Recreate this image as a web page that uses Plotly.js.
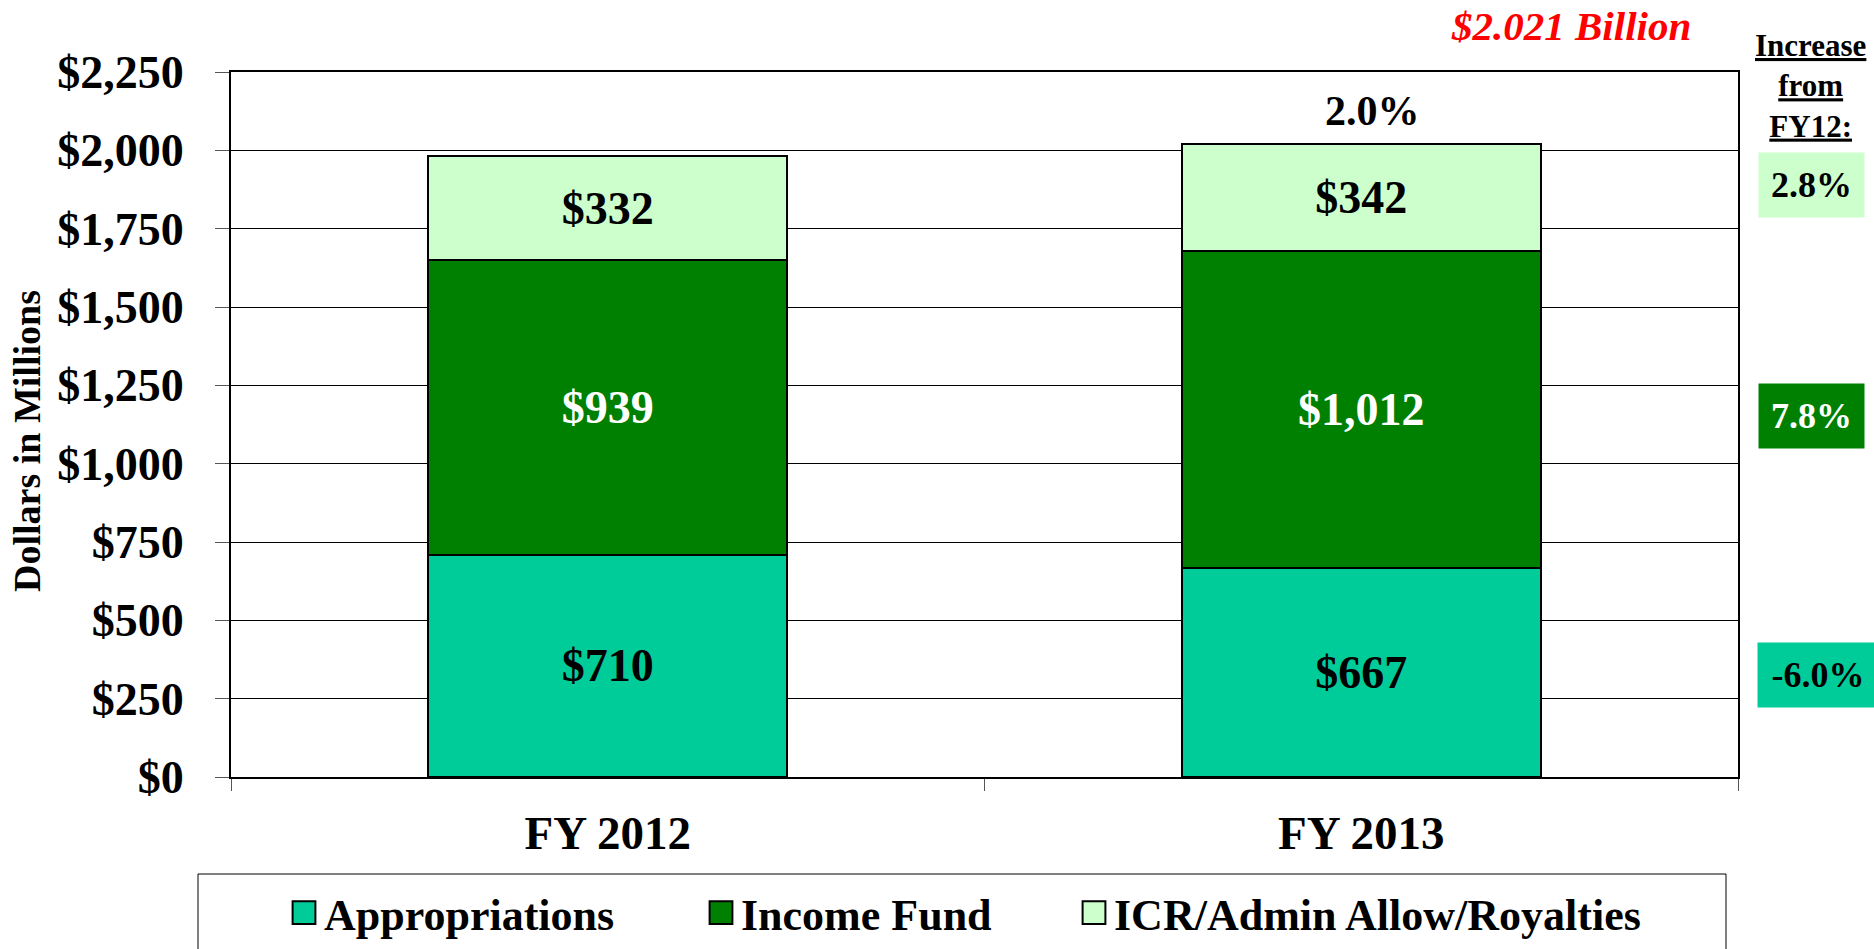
<!DOCTYPE html>
<html><head><meta charset="utf-8">
<script src="https://cdn.plot.ly/plotly-3.0.1.min.js"></script>
<style>html,body{margin:0;padding:0;background:#fff;}#chart{width:1874px;height:949px;}</style>
</head><body><div id="chart"></div>
<script>
const categories = ['FY 2012', 'FY 2013'];
const appropriations = [710, 667];
const incomeFund = [939, 1012];
const icrAdminRoyalties = [332, 342];
const seriesNames = ['Appropriations', 'Income Fund', 'ICR/Admin Allow/Royalties'];
const seriesColors = ['#00CC99', '#008000', '#CCFFCC'];
const seriesTextColors = ['#000000', '#FFFFFF', '#000000'];
const totalLabel = '$2.021 Billion';
const totalChangeLabel = '2.0%';
const changeHeader = ['Increase', 'from', 'FY12:'];
const changeLabels = ['-6.0%', '7.8%', '2.8%'];
const yAxisTitle = 'Dollars in Millions';

const F = 'Liberation Serif, Times New Roman, serif';
const seriesValues = [appropriations, incomeFund, icrAdminRoyalties];
const legendIds = ['legend', 'legend2', 'legend3'];
const legendLeftPx = [284, 701, 1074];

const traces = seriesValues.map((vals, i) => ({
  type: 'bar', name: seriesNames[i], x: categories, y: vals, legend: legendIds[i],
  marker: {color: seriesColors[i], line: {color: '#000', width: 2}},
  texttemplate: '$%{y:,}', textposition: 'inside', insidetextanchor: 'middle', textangle: 0,
  constraintext: 'none',
  textfont: {family: F, size: 46, color: seriesTextColors[i], weight: 700},
  hoverinfo: 'skip'
}));

const fy13Total = appropriations[1] + incomeFund[1] + icrAdminRoyalties[1];

function px2x(p) { return (p - 231) / 1507; }
function px2y(p) { return (777 - p) / 705; }

const annotations = [
  {xref: 'paper', yref: 'paper', x: px2x(27), y: px2y(441), text: '<b>' + yAxisTitle + '</b>', textangle: -90,
   showarrow: false, xanchor: 'center', yanchor: 'middle', font: {family: F, size: 38, color: '#000'}},
  {xref: 'paper', yref: 'paper', x: px2x(1571), y: px2y(26), text: '<b><i>' + totalLabel + '</i></b>',
   showarrow: false, xanchor: 'center', yanchor: 'middle', font: {family: F, size: 41, color: '#FF0000'}},
  {xref: 'x', yref: 'y', x: categories[1], y: fy13Total, xshift: 11, yshift: 8, text: '<b>' + totalChangeLabel + '</b>',
   showarrow: false, xanchor: 'center', yanchor: 'bottom', font: {family: F, size: 42, color: '#000'}},
  {xref: 'paper', yref: 'paper', x: px2x(1810), y: px2y(86), text: changeHeader.map(s => '<b><u>' + s + '</u></b>').join('<br>'),
   showarrow: false, xanchor: 'center', yanchor: 'middle', font: {family: F, size: 31, color: '#000'}},
  {xref: 'paper', yref: 'paper', x: px2x(1811.5), y: px2y(185), text: '<b>' + changeLabels[2] + '</b>',
   showarrow: false, xanchor: 'center', yanchor: 'middle', width: 105, height: 64, borderpad: 0,
   bgcolor: seriesColors[2], font: {family: F, size: 36, color: '#000'}},
  {xref: 'paper', yref: 'paper', x: px2x(1811.5), y: px2y(416), text: '<b>' + changeLabels[1] + '</b>',
   showarrow: false, xanchor: 'center', yanchor: 'middle', width: 105, height: 64, borderpad: 0,
   bgcolor: seriesColors[1], font: {family: F, size: 36, color: '#FFF'}},
  {xref: 'paper', yref: 'paper', x: px2x(1818), y: px2y(675), text: '<b>' + changeLabels[0] + '</b>',
   showarrow: false, xanchor: 'center', yanchor: 'middle', width: 120, height: 64, borderpad: 0,
   bgcolor: seriesColors[0], font: {family: F, size: 36, color: '#000'}}
];

const legendBase = {orientation: 'h', xanchor: 'left', y: px2y(913), yanchor: 'middle',
  font: {family: F, size: 44, color: '#000', weight: 700}, bgcolor: 'rgba(0,0,0,0)', borderwidth: 0};

const layout = {
  width: 1874, height: 949,
  paper_bgcolor: '#fff', plot_bgcolor: '#fff',
  margin: {l: 231, r: 136, t: 72, b: 172, autoexpand: false},
  barmode: 'stack', bargap: 0.524,
  showlegend: true,
  legend: Object.assign({}, legendBase, {x: px2x(legendLeftPx[0])}),
  legend2: Object.assign({}, legendBase, {x: px2x(legendLeftPx[1])}),
  legend3: Object.assign({}, legendBase, {x: px2x(legendLeftPx[2])}),
  xaxis: {type: 'category', tickson: 'boundaries', ticks: 'outside', ticklen: 12, tickwidth: 1, tickcolor: '#555',
    showline: true, linecolor: '#000', linewidth: 2, mirror: true, showgrid: false, zeroline: false,
    tickfont: {family: F, size: 47, color: '#000', weight: 700}, ticklabelstandoff: 14, fixedrange: true},
  yaxis: {range: [0, 2250], tick0: 0, dtick: 250, tickprefix: '$', tickformat: ',d',
    ticks: 'outside', ticklen: 14, tickwidth: 1, tickcolor: '#555',
    showgrid: true, gridcolor: '#000', gridwidth: 1, zeroline: false,
    showline: true, linecolor: '#000', linewidth: 2, mirror: true,
    tickfont: {family: F, size: 46, color: '#000', weight: 700}, ticklabelstandoff: 22,
    fixedrange: true},
  shapes: [{type: 'rect', xref: 'paper', yref: 'paper', x0: px2x(198), x1: px2x(1726), y0: px2y(990), y1: px2y(874),
    line: {color: '#000', width: 1}, fillcolor: 'rgba(0,0,0,0)'}],
  annotations: annotations
};

Plotly.newPlot('chart', traces, layout, {displayModeBar: false, staticPlot: true}).then(gd => {
  document.querySelectorAll('.legendpoints path').forEach(p => {
    const t = p.getAttribute('transform') || '';
    p.setAttribute('transform', t + ' scale(1.9)');
    p.style.vectorEffect = 'non-scaling-stroke';
  });
});
</script></body></html>
